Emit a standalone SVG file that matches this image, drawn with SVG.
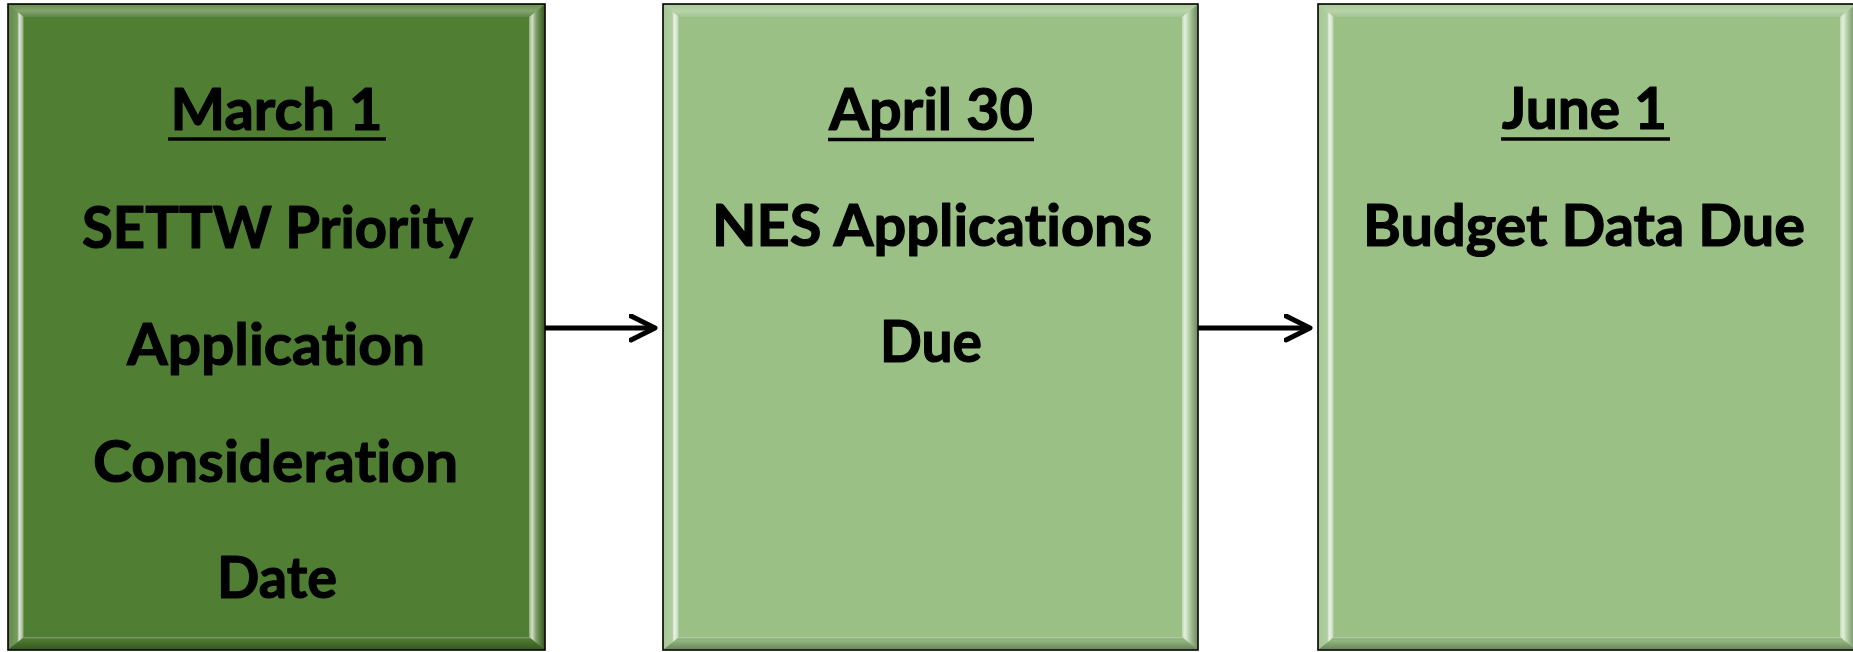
<svg xmlns="http://www.w3.org/2000/svg" width="1853" height="652" viewBox="0 0 1853 652">
<defs>
<linearGradient id="gL" x1="0" y1="0" x2="1" y2="0">
<stop offset="0" stop-color="#fff" stop-opacity="0.12"/>
<stop offset="0.55" stop-color="#fff" stop-opacity="0.22"/>
<stop offset="0.68" stop-color="#fff" stop-opacity="0.8"/>
<stop offset="0.88" stop-color="#fff" stop-opacity="0.55"/>
<stop offset="1" stop-color="#fff" stop-opacity="0.05"/>
</linearGradient>
<linearGradient id="gR" x1="0" y1="0" x2="1" y2="0">
<stop offset="0" stop-color="#fff" stop-opacity="0.35"/>
<stop offset="0.2" stop-color="#fff" stop-opacity="0.75"/>
<stop offset="0.45" stop-color="#fff" stop-opacity="0.3"/>
<stop offset="1" stop-color="#000" stop-opacity="0.25"/>
</linearGradient>
<linearGradient id="gT" x1="0" y1="0" x2="0" y2="1">
<stop offset="0" stop-color="#fff" stop-opacity="0.15"/>
<stop offset="0.5" stop-color="#fff" stop-opacity="0.3"/>
<stop offset="1" stop-color="#fff" stop-opacity="0.08"/>
</linearGradient>
<linearGradient id="gB" x1="0" y1="0" x2="0" y2="1">
<stop offset="0" stop-color="#fff" stop-opacity="0.35"/>
<stop offset="0.3" stop-color="#000" stop-opacity="0.05"/>
<stop offset="1" stop-color="#000" stop-opacity="0.3"/>
</linearGradient>
<marker id="arr" markerUnits="userSpaceOnUse" markerWidth="40" markerHeight="40" refX="26" refY="14" orient="auto">
<polyline points="2,2 26,14 2,26" fill="none" stroke="#000" stroke-width="5" stroke-linecap="round" stroke-linejoin="round"/>
</marker>
</defs>
<style>
.frame{stroke:#000;stroke-width:1.6}
.dark{fill:#507E32}
.light{fill:#9AC086}
.t{font-family:Lato,"Open Sans","Liberation Sans",sans-serif;font-weight:bold;font-size:58px;fill:#000;stroke:#000;stroke-width:1.2;stroke-linejoin:round;text-anchor:middle;font-variant-ligatures:none;font-feature-settings:"liga" 0,"clig" 0}
.ul{stroke:#000;stroke-width:3.5}
.conn{stroke:#000;stroke-width:5;fill:none}
</style>
<g id="node-march">
<rect class="frame dark" x="8" y="4" width="537" height="646"/>
<polygon fill="url(#gT)" points="9,5 544,5 529,17 24,17"/>
<polygon fill="url(#gL)" points="9,5 24,17 24,637 9,649"/>
<polygon fill="url(#gR)" points="544,5 544,649 529,637 529,17"/>
<polygon fill="url(#gB)" points="9,649 24,637 529,637 544,649"/>
<text class="t" x="276.5" y="130" textLength="212" lengthAdjust="spacingAndGlyphs">March 1</text>
<line class="ul" x1="168" y1="139" x2="386" y2="139"/>
<text class="t" x="277.5" y="248" textLength="391" lengthAdjust="spacingAndGlyphs">SETTW Priority</text>
<text class="t" x="276" y="365" textLength="298" lengthAdjust="spacingAndGlyphs">Application</text>
<text class="t" x="275.5" y="482" textLength="365" lengthAdjust="spacingAndGlyphs">Consideration</text>
<text class="t" x="277" y="598" textLength="120" lengthAdjust="spacingAndGlyphs">Date</text>
</g>
<g id="node-april">
<rect class="frame light" x="663" y="4" width="535" height="646"/>
<polygon fill="url(#gT)" points="664,5 1197,5 1182,17 679,17"/>
<polygon fill="url(#gL)" points="664,5 679,17 679,637 664,649"/>
<polygon fill="url(#gR)" points="1197,5 1197,649 1182,637 1182,17"/>
<polygon fill="url(#gB)" points="664,649 679,637 1182,637 1197,649"/>
<text class="t" x="931" y="130" textLength="204" lengthAdjust="spacingAndGlyphs">April 30</text>
<line class="ul" x1="828" y1="139.5" x2="1034" y2="139.5"/>
<text class="t" x="932" y="246" textLength="440" lengthAdjust="spacingAndGlyphs">NES Applications</text>
<text class="t" x="931" y="362" textLength="102" lengthAdjust="spacingAndGlyphs">Due</text>
</g>
<g id="node-june">
<rect class="frame light" x="1318" y="4" width="538" height="646"/>
<polygon fill="url(#gT)" points="1319,5 1855,5 1840,17 1334,17"/>
<polygon fill="url(#gL)" points="1319,5 1334,17 1334,637 1319,649"/>
<polygon fill="url(#gR)" points="1855,5 1855,649 1840,637 1840,17"/>
<polygon fill="url(#gB)" points="1319,649 1334,637 1840,637 1855,649"/>
<text class="t" x="1584.5" y="129" textLength="165" lengthAdjust="spacingAndGlyphs">June 1</text>
<line class="ul" x1="1501" y1="139" x2="1670" y2="139"/>
<text class="t" x="1584" y="246" textLength="442" lengthAdjust="spacingAndGlyphs">Budget Data Due</text>
</g>
<g id="connectors">
<line class="conn" x1="545" y1="328" x2="655" y2="328" marker-end="url(#arr)"/>
<line class="conn" x1="1198" y1="328" x2="1310" y2="328" marker-end="url(#arr)"/>
</g>
</svg>
